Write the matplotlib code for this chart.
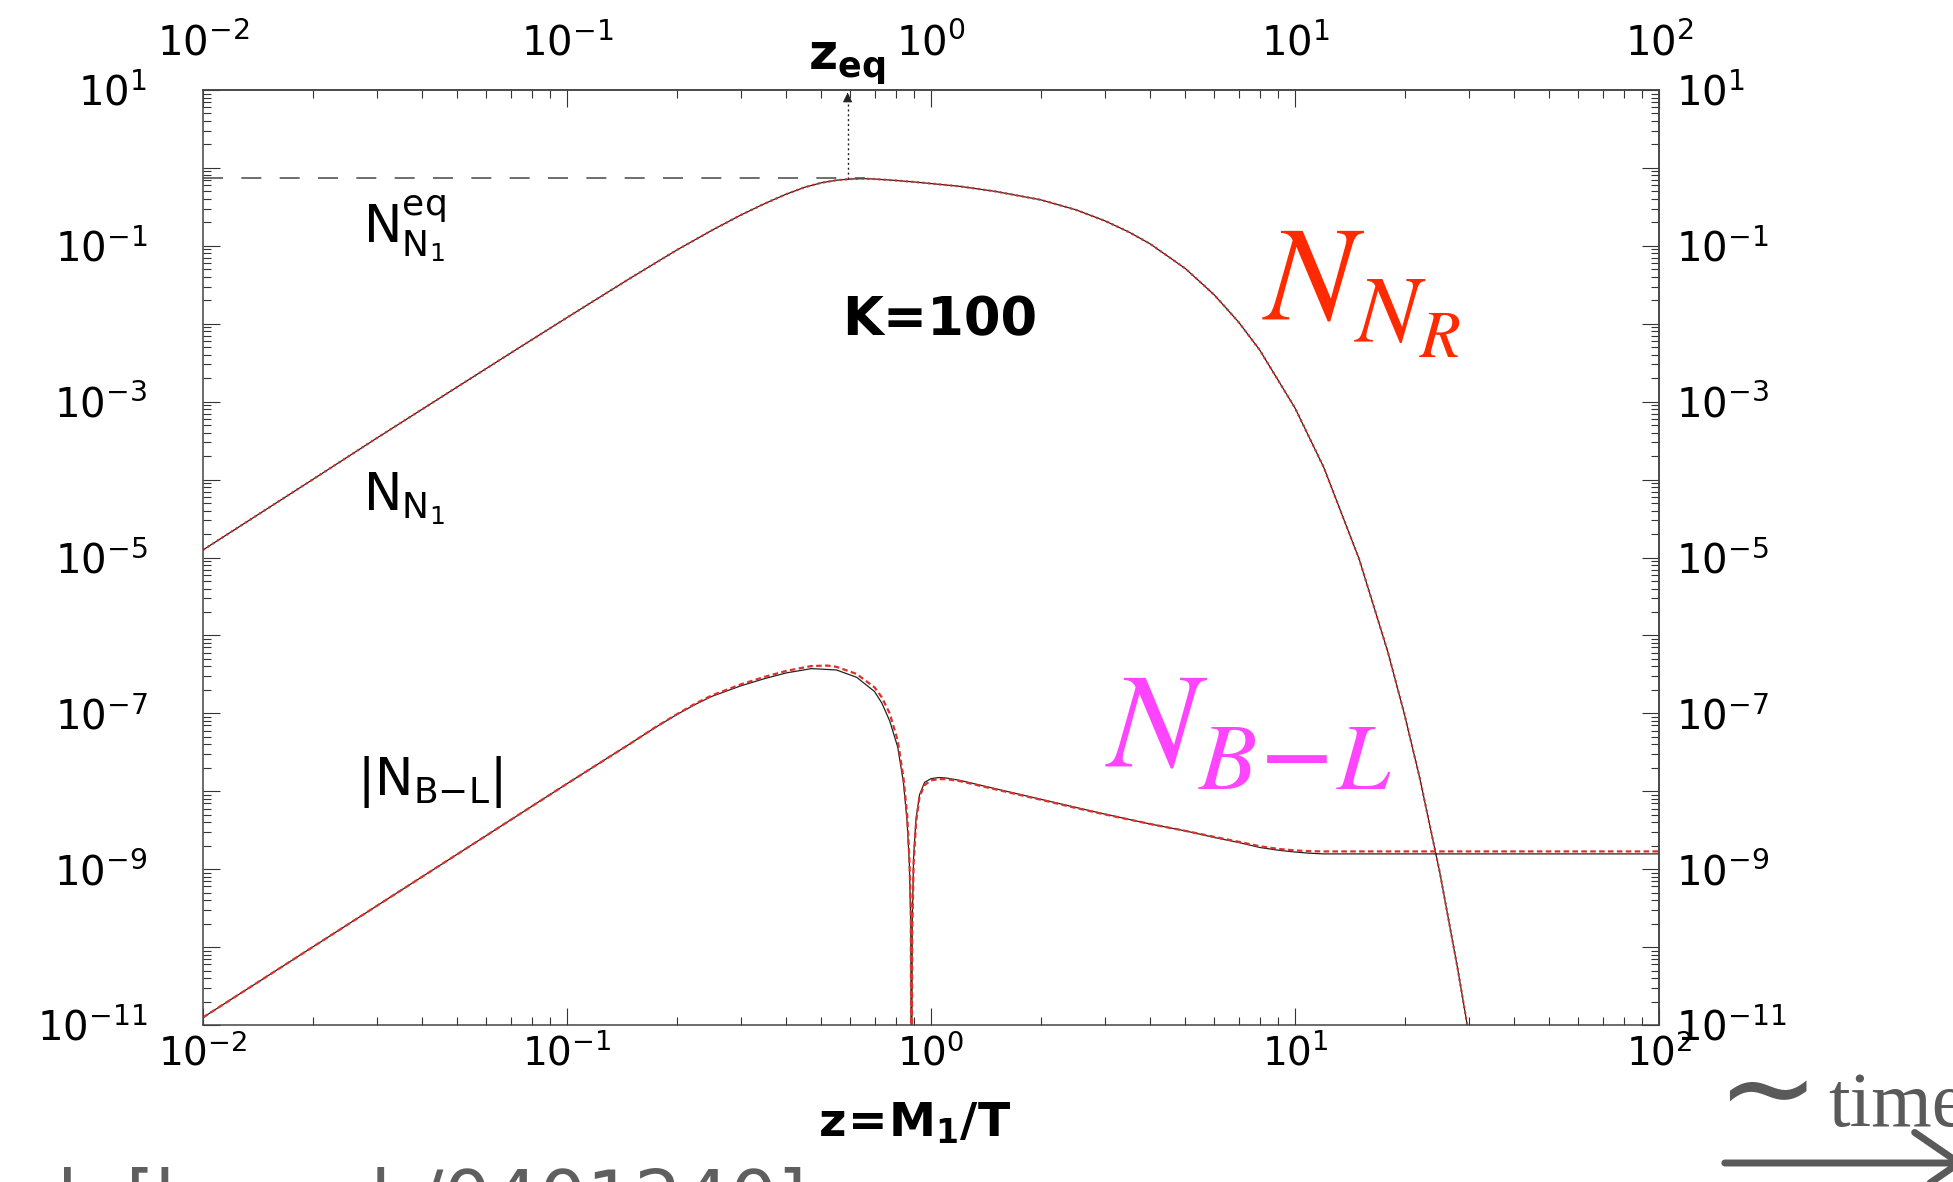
import numpy as np
import matplotlib
matplotlib.use("Agg")
import matplotlib.pyplot as plt
from matplotlib.ticker import LogLocator, FuncFormatter, NullFormatter

plt.rcParams['font.family'] = ['DejaVu Sans']
plt.rcParams['mathtext.default'] = 'regular'

# N_N1 (black solid, red dotted on top -- they coincide)
z_nn = [0.01, 0.02, 0.03, 0.05, 0.07, 0.1, 0.15, 0.2, 0.25, 0.3, 0.35, 0.4, 0.45,
        0.5, 0.55, 0.6, 0.65, 0.7, 0.8, 0.9, 1.0, 1.2, 1.5, 2.0, 2.5, 3.0, 3.5,
        4.0, 5.0, 6.0, 7.0, 8.0, 10.0, 12.0, 15.0, 18.0, 20.0, 22.0, 25.0, 28.0, 30.0]
n_nn = [1.25e-5, 1.0e-4, 3.4e-4, 1.55e-3, 4.2e-3, 1.2e-2, 3.9e-2, 8.8e-2, 0.158,
        0.248, 0.35, 0.46, 0.565, 0.645, 0.695, 0.72, 0.728, 0.72, 0.69, 0.66, 0.63,
        0.58, 0.50, 0.39, 0.29, 0.21, 0.15, 0.106, 0.051, 0.0235, 0.0105, 4.6e-3,
        8.3e-4, 1.43e-4, 9.6e-6, 6.1e-7, 9.6e-8, 1.5e-8, 9.0e-10, 5.2e-11, 7.8e-12]

# |N_B-L| black solid
z_bl = [0.01, 0.02, 0.05, 0.1, 0.15, 0.175, 0.2, 0.225, 0.25, 0.3, 0.35, 0.4, 0.47,
        0.55, 0.625, 0.7, 0.733, 0.77, 0.81, 0.84, 0.86, 0.872, 0.88, 0.884, 0.888,
        0.896, 0.91, 0.93, 0.96, 1.0, 1.05, 1.1, 1.2, 1.5, 2.0, 2.5, 3.0, 4.0, 5.0,
        6.0, 7.0, 8.0, 9.0, 10.0, 11.0, 12.0, 20.0, 50.0, 100.0]
n_bl = [1.25e-11, 1.0e-10, 1.56e-9, 1.25e-8, 4.15e-8, 6.6e-8, 9.6e-8, 1.3e-7, 1.65e-7,
        2.25e-7, 2.8e-7, 3.3e-7, 3.75e-7, 3.6e-7, 2.9e-7, 1.9e-7, 1.35e-7, 8.0e-8,
        3.7e-8, 1.3e-8, 4.0e-9, 1.2e-9, 2.0e-10, 1e-13, 2.0e-10, 1.5e-9, 4.5e-9,
        9.0e-9, 1.3e-8, 1.45e-8, 1.5e-8, 1.48e-8, 1.38e-8, 1.08e-8, 7.9e-9, 6.2e-9,
        5.1e-9, 3.8e-9, 3.1e-9, 2.55e-9, 2.2e-9, 1.9e-9, 1.75e-9, 1.66e-9, 1.6e-9,
        1.57e-9, 1.57e-9, 1.57e-9, 1.57e-9]

# |N_B-L| red dotted
z_bl_red = [0.01, 0.02, 0.05, 0.1, 0.15, 0.175, 0.2, 0.225, 0.25, 0.3, 0.35, 0.4, 0.47,
            0.52, 0.55, 0.625, 0.7, 0.733, 0.77, 0.81, 0.84, 0.86, 0.872, 0.88, 0.884,
            0.888, 0.896, 0.91, 0.93, 0.96, 1.0, 1.05, 1.1, 1.2, 1.5, 2.0, 2.5, 3.0,
            4.0, 5.0, 6.0, 7.0, 8.0, 9.0, 10.0, 11.0, 12.0, 20.0, 50.0, 100.0]
n_bl_red = [1.25e-11, 1.0e-10, 1.56e-9, 1.25e-8, 4.15e-8, 6.65e-8, 9.7e-8, 1.33e-7,
            1.7e-7, 2.35e-7, 2.95e-7, 3.5e-7, 4.05e-7, 4.1e-7, 3.95e-7, 3.2e-7,
            2.15e-7, 1.6e-7, 1.0e-7, 4.5e-8, 1.5e-8, 5.0e-9, 1.4e-9, 3.0e-10, 1e-13,
            1.5e-10, 1.2e-9, 4.0e-9, 8.5e-9, 1.2e-8, 1.38e-8, 1.43e-8, 1.43e-8,
            1.35e-8, 1.06e-8, 7.8e-9, 6.1e-9, 5.05e-9, 3.8e-9, 3.1e-9, 2.6e-9,
            2.25e-9, 1.97e-9, 1.82e-9, 1.74e-9, 1.7e-9, 1.69e-9, 1.69e-9, 1.69e-9,
            1.69e-9]

z_eq = 0.59
n_eq0 = 0.75

W, H = 1953, 1182
fig = plt.figure(figsize=(W / 100, H / 100), dpi=100)


def fx(p):
    return p / W


def fy(p):
    return 1 - p / H


ax = fig.add_axes([fx(203), fy(1025), fx(1659) - fx(203), fy(90) - fy(1025)])
ax.set_xscale('log')
ax.set_yscale('log')

ax.plot(z_nn, n_nn, color='#222222', lw=0.9)
ax.plot(z_nn, n_nn, color='#e0302a', lw=1.6, ls=(0, (1, 1.5)))
ax.plot(z_bl, n_bl, color='#222222', lw=0.9)
ax.plot(z_bl_red, n_bl_red, color='#e0302a', lw=1.6, ls=(0, (2.5, 1.5)))

# equilibrium level and z_eq marker
ax.plot([1e-2, 0.66], [n_eq0, n_eq0], color='#555555', lw=1.2, ls=(0, (12, 11)))
ax.plot([z_eq, z_eq], [0.73, 9.3], color='#222222', lw=1.0, ls=(0, (1.5, 2)))
ax.annotate('', xy=(z_eq, 10), xytext=(z_eq, 8),
            arrowprops=dict(arrowstyle='-|>', color='#222222', lw=0.8, mutation_scale=14))

ax.set_xlim(1e-2, 1e2)
ax.set_ylim(1e-11, 1e1)


def xlab(v, pos):
    return r'$10^{%d}$' % int(round(np.log10(v)))


def ylab(v, pos):
    e = int(round(np.log10(v)))
    return r'$10^{%d}$' % e if e % 2 else ''


for axis, fmt in ((ax.xaxis, xlab), (ax.yaxis, ylab)):
    axis.set_major_locator(LogLocator(base=10, numticks=30))
    axis.set_minor_locator(LogLocator(base=10, subs=np.arange(2, 10), numticks=30))
    axis.set_major_formatter(FuncFormatter(fmt))
    axis.set_minor_formatter(NullFormatter())

ax.tick_params(which='both', direction='in', top=False, right=False,
               width=0.8, color='#333333')
ax.tick_params(which='major', length=12)
ax.tick_params(which='minor', length=6)
ax.tick_params(axis='x', pad=6, labelsize=28)
ax.tick_params(axis='y', pad=40, labelsize=29)
for s in ax.spines.values():
    s.set_color('#444444')
    s.set_linewidth(1.1)

top = ax.secondary_xaxis('top')
top.xaxis.set_major_locator(LogLocator(base=10, numticks=30))
top.xaxis.set_minor_locator(LogLocator(base=10, subs=np.arange(2, 10), numticks=30))
top.xaxis.set_major_formatter(FuncFormatter(xlab))
top.xaxis.set_minor_formatter(NullFormatter())
top.tick_params(which='both', direction='in', width=0.8, color='#333333', labelsize=29, pad=18)
top.tick_params(which='major', length=12)
top.tick_params(which='minor', length=6)

right = ax.secondary_yaxis('right')
right.yaxis.set_major_locator(LogLocator(base=10, numticks=30))
right.yaxis.set_minor_locator(LogLocator(base=10, subs=np.arange(2, 10), numticks=30))
right.yaxis.set_major_formatter(FuncFormatter(ylab))
right.yaxis.set_minor_formatter(NullFormatter())
right.tick_params(which='both', direction='in', width=0.8, color='#333333', labelsize=29, pad=12)
right.tick_params(which='major', length=12)
right.tick_params(which='minor', length=6)
for s in list(top.spines.values()) + list(right.spines.values()):
    s.set_color('#444444')
    s.set_linewidth(1.1)

# labels inside the plot
fig.text(fx(363), fy(242), r'$N_{N_1}^{eq}$', fontsize=37, ha='left', va='baseline')
fig.text(fx(363), fy(511), r'$N_{N_1}$', fontsize=37, ha='left', va='baseline')
fig.text(fx(357), fy(795), r'$|N_{B{-}L}|$', fontsize=37, ha='left', va='baseline')
fig.text(fx(842), fy(335), 'K=100', fontsize=38, fontweight='bold', ha='left', va='baseline')
fig.text(fx(808), fy(70), r'$\mathbf{z_{eq}}$', fontsize=36, ha='left', va='baseline')
fig.text(fx(915), fy(1136), r'$\mathbf{z\!=\!M_1/T}$', fontsize=34, ha='center', va='baseline')

fig.text(fx(1262), fy(320), r'$\mathit{N}_{\mathit{N}_{\mathit{R}}}$', fontsize=98,
         color='#ff2a00', math_fontfamily='stix', ha='left', va='baseline')
fig.text(fx(1105), fy(768), r'$\mathit{N}_{\mathit{B}{-}\mathit{L}}$', fontsize=98,
         color='#ff44ff', math_fontfamily='stix', ha='left', va='baseline')

# "~time" with arrow, and the cropped citation
fig.text(fx(1699), fy(1128), r'$\sim$', fontsize=88, color='#5a5a5a',
         math_fontfamily='stix', ha='left', va='baseline')
fig.text(fx(1828), fy(1126), 'time', fontsize=56, color='#5a5a5a',
         family='Liberation Serif', ha='left', va='baseline')
ax.annotate('', xy=(1968, H - 1163), xytext=(1722, H - 1163), xycoords='figure pixels',
            textcoords='figure pixels', annotation_clip=False,
            arrowprops=dict(arrowstyle='->,head_length=0.8,head_width=0.55',
                            lw=5, color='#5a5a5a', mutation_scale=40))
fig.text(fx(11), fy(1224), 'al. [hep-ph/0401240]', fontsize=54, color='#5f5f5f',
         ha='left', va='baseline')

fig.savefig('out.png', dpi=100)
